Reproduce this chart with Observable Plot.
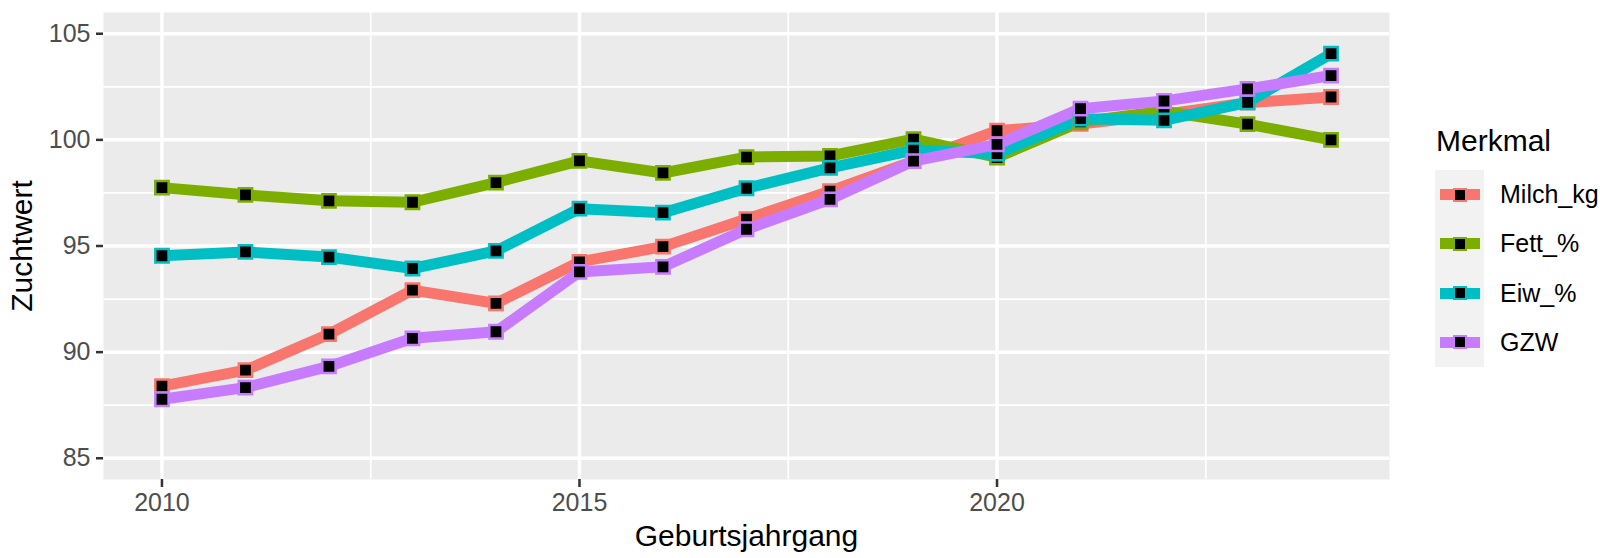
<!DOCTYPE html>
<html>
<head>
<meta charset="utf-8">
<script src="https://cdn.jsdelivr.net/npm/d3@7"></script>
<script src="https://cdn.jsdelivr.net/npm/@observablehq/plot@0.6"></script>
<style>
  html, body { margin: 0; padding: 0; background: white; }
  #wrap { position: relative; width: 1600px; height: 558px; font-family: "Liberation Sans", Arial, sans-serif; }
  #legend { position: absolute; left: 1435px; top: 126px; }
  #legend .title { font-size: 30px; line-height: 30px; color: #000; margin-left: 1px; height: 44px; }
  #legend .row { display: flex; align-items: center; height: 49.25px; }
  #legend .key { position: relative; width: 49px; height: 49.25px; background: #F2F2F2; }
  #legend .key .ln { position: absolute; left: 5px; width: 40px; top: 19.1px; height: 11px; }
  #legend .key .sq { position: absolute; left: 17.5px; top: 17.5px; width: 10px; height: 10px; background: #000; border: 2.5px solid; }
  #legend .lab { font-size: 25px; color: #000; margin-left: 16px; }
</style>
</head>
<body>
<div id="wrap"></div>
<script>
// ---- data ----
const years = [2010, 2011, 2012, 2013, 2014, 2015, 2016, 2017, 2018, 2019, 2020, 2021, 2022, 2023, 2024];
const series = ["Milch_kg", "Fett_%", "Eiw_%", "GZW"];
const milch = [88.40, 89.15, 90.85, 92.92, 92.30, 94.25, 94.97, 96.27, 97.58, 99.00, 100.43, 100.75, 101.20, 101.75, 102.02];
const fett  = [97.75, 97.41, 97.13, 97.06, 97.99, 99.01, 98.44, 99.19, 99.24, 100.03, 99.17, 100.85, 101.35, 100.74, 100.00];
const eiw   = [94.54, 94.72, 94.48, 93.94, 94.77, 96.76, 96.57, 97.72, 98.68, 99.52, 99.35, 101.00, 100.92, 101.77, 104.06];
const gzw   = [87.78, 88.33, 89.33, 90.65, 90.96, 93.78, 94.02, 95.79, 97.20, 99.00, 99.79, 101.47, 101.83, 102.40, 103.03];
const xTicks = [2010, 2015, 2020];
const xMinor = [2012.5, 2017.5, 2022.5];
const yTicks = [85, 90, 95, 100, 105];
const yMinor = [87.5, 92.5, 97.5, 102.5];
const xTitle = "Geburtsjahrgang";
const yTitle = "Zuchtwert";
const legendTitle = "Merkmal";

// ---- styles ----
const colors = ["#F8766D", "#7CAE00", "#00BFC4", "#C77CFF"];

const valuesBySeries = [milch, fett, eiw, gzw];
const table = [];
series.forEach((s, i) => years.forEach((y, j) => table.push({series: s, year: y, value: valuesBySeries[i][j]})));

const chart = Plot.plot({
  width: 1600,
  height: 558,
  marginLeft: 103,
  marginRight: 211,
  marginTop: 12,
  marginBottom: 79,
  style: {background: "white", fontFamily: "'Liberation Sans', Arial, sans-serif", overflow: "visible"},
  x: {domain: [2009.3, 2024.7], axis: null},
  y: {domain: [84, 106], axis: null},
  color: {domain: series, range: colors},
  marks: [
    Plot.frame({fill: "#EBEBEB", stroke: null}),
    Plot.ruleX(xMinor, {stroke: "white", strokeWidth: 1.7}),
    Plot.ruleY(yMinor, {stroke: "white", strokeWidth: 1.7}),
    Plot.ruleX(xTicks, {stroke: "white", strokeWidth: 3.5}),
    Plot.ruleY(yTicks, {stroke: "white", strokeWidth: 3.5}),
    Plot.lineY(table, {x: "year", y: "value", z: "series", stroke: "series", strokeWidth: 11, strokeLinecap: "butt", strokeLinejoin: "round"}),
    Plot.dot(table, {x: "year", y: "value", symbol: "square", r: 7.5, fill: "black", stroke: "series", strokeWidth: 2.5}),
    Plot.axisX(xTicks, {tickSize: 8, tickPadding: 6, fontSize: 25, stroke: "#333333", strokeWidth: 2.5, fill: "#4D4D4D", label: null, tickFormat: d => String(d)}),
    Plot.axisY(yTicks, {tickSize: 7, tickPadding: 6, fontSize: 25, stroke: "#333333", strokeWidth: 2.5, fill: "#4D4D4D", label: null, tickFormat: d => String(d)}),
    Plot.text([xTitle], {text: d => d, frameAnchor: "bottom", lineAnchor: "middle", dy: 57, fontSize: 30, fill: "black"}),
    Plot.text([yTitle], {text: d => d, frameAnchor: "left", lineAnchor: "middle", textAnchor: "middle", rotate: -90, dx: -81, fontSize: 30, fill: "black"})
  ]
});

const wrap = document.getElementById("wrap");
wrap.appendChild(chart);

// legend
const lg = document.createElement("div");
lg.id = "legend";
const t = document.createElement("div");
t.className = "title";
t.textContent = legendTitle;
lg.appendChild(t);
series.forEach((s, i) => {
  const row = document.createElement("div");
  row.className = "row";
  const key = document.createElement("div");
  key.className = "key";
  const ln = document.createElement("div");
  ln.className = "ln";
  ln.style.background = colors[i];
  const sq = document.createElement("div");
  sq.className = "sq";
  sq.style.borderColor = colors[i];
  key.appendChild(ln);
  key.appendChild(sq);
  const lab = document.createElement("div");
  lab.className = "lab";
  lab.textContent = s;
  row.appendChild(key);
  row.appendChild(lab);
  lg.appendChild(row);
});
wrap.appendChild(lg);
</script>
</body>
</html>
